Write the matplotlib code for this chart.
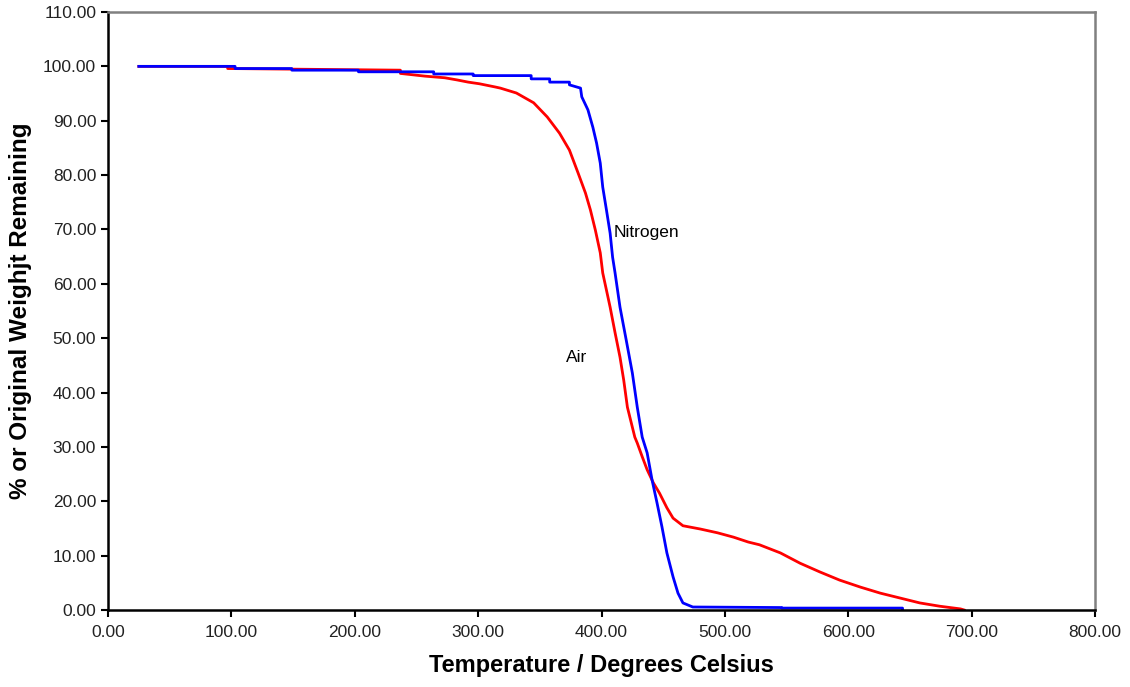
import matplotlib.pyplot as plt
from matplotlib.ticker import FormatStrFormatter, MultipleLocator

plt.rcParams['font.family'] = ['Liberation Sans', 'DejaVu Sans']

# Nitrogen atmosphere (blue)
n2_temp = [25, 103, 103, 149, 149, 203, 203, 264, 264, 296, 296, 343, 343, 358, 358, 374,
           374, 383, 384, 389, 393, 396, 399, 401, 404, 407, 409, 411, 415, 420, 425,
           429, 433, 437, 441, 445, 449, 453, 458, 462, 466, 474, 546, 546, 644, 644]
n2_weight = [100.0, 100.0, 99.6, 99.6, 99.3, 99.3, 99.0, 99.0, 98.6, 98.6, 98.3, 98.3, 97.7, 97.7,
             97.1, 97.1, 96.6, 96.0, 94.4, 92.0, 88.8, 85.9, 82.2, 77.8, 73.6, 69.3, 64.9,
             62.0, 55.7, 49.7, 43.6, 37.3, 31.8, 28.9, 23.9, 19.7, 15.3, 10.5, 6.1, 3.1,
             1.3, 0.55, 0.45, 0.35, 0.35, 0.25]

# Air atmosphere (red)
air_temp = [25, 97, 97, 237, 237, 257, 273, 283, 292, 301, 314, 318, 331, 345, 356, 366,
            374, 381, 387, 391, 395, 399, 401, 407, 411, 415, 418, 421, 427, 429, 433,
            437, 442, 447, 453, 458, 466, 480, 494, 507, 519, 528, 545, 561, 577, 593,
            610, 626, 642, 658, 674, 691, 694]
air_weight = [100.0, 100.0, 99.6, 99.3, 98.7, 98.2, 97.9, 97.5, 97.1, 96.8, 96.2, 96.0, 95.1,
              93.3, 90.7, 87.7, 84.6, 80.4, 76.7, 73.6, 69.9, 65.7, 62.0, 55.7, 51.0, 46.5,
              42.3, 37.3, 31.8, 30.7, 28.2, 25.8, 23.4, 21.5, 18.8, 16.9, 15.5, 14.9, 14.2,
              13.4, 12.5, 12.0, 10.5, 8.6, 7.0, 5.5, 4.2, 3.1, 2.2, 1.3, 0.7, 0.2, 0.0]

fig = plt.figure(figsize=(11.3, 6.87), dpi=100)
ax = fig.add_axes([108 / 1130, 1 - 610 / 687, (1095 - 108) / 1130, (610 - 12) / 687])

ax.plot(air_temp, air_weight, color="#ff0000", lw=2.0)
ax.plot(n2_temp, n2_weight, color="#0000ff", lw=2.0)

ax.text(410, 69.5, "Nitrogen", fontsize=12.5, va="center", ha="left")
ax.text(371, 46.4, "Air", fontsize=12.5, va="center", ha="left")

ax.set_xlim(0, 800)
ax.set_ylim(0, 110)
ax.xaxis.set_major_locator(MultipleLocator(100))
ax.yaxis.set_major_locator(MultipleLocator(10))
ax.xaxis.set_major_formatter(FormatStrFormatter("%.2f"))
ax.yaxis.set_major_formatter(FormatStrFormatter("%.2f"))
ax.tick_params(direction="out", length=5, width=1.5, labelsize=12.5, colors="black",
               labelcolor="#222222")
ax.tick_params(axis="x", pad=6)

for side in ["left", "bottom"]:
    ax.spines[side].set_color("black")
    ax.spines[side].set_linewidth(1.8)
for side in ["top", "right"]:
    ax.spines[side].set_color("#808080")
    ax.spines[side].set_linewidth(1.8)

ax.set_xlabel("Temperature / Degrees Celsius", fontsize=17, fontweight="bold", labelpad=10)
ax.set_ylabel("% or Original Weighjt Remaining", fontsize=17.5, fontweight="bold", labelpad=8)

fig.savefig("out.png", dpi=100)
